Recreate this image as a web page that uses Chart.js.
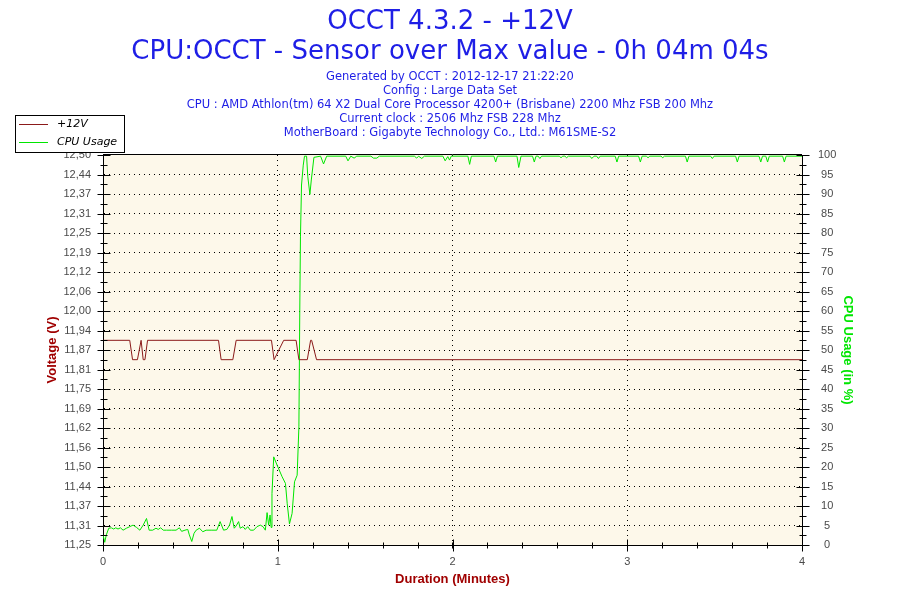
<!DOCTYPE html>
<html>
<head>
<meta charset="utf-8">
<title>OCCT 4.3.2 - +12V</title>
<script src="https://cdn.jsdelivr.net/npm/chart.js@4.4.1/dist/chart.umd.min.js"></script>
<style>
  html, body { margin: 0; padding: 0; background: #fff; }
  #wrap { position: relative; width: 900px; height: 600px; font-family: "DejaVu Sans", sans-serif; }
  #wrap canvas { position: absolute; left: 0; top: 0; }
  .hd { position: absolute; left: 0; width: 900px; text-align: center; color: #1e1ee6; white-space: nowrap; }
  .big { font-size: 26px; line-height: 30px; }
  .small { font-size: 11.5px; line-height: 14px; }
  #legend { position: absolute; left: 15px; top: 115px; width: 108px; height: 36px;
            border: 1px solid #000; background: #fff; }
  #legend .item { position: absolute; left: 0; height: 18px; width: 108px; }
  #legend .swatch { position: absolute; left: 3px; top: 8px; width: 29px; height: 1px; }
  #legend .lbl { position: absolute; left: 41px; top: 1px; font-size: 11px; font-style: italic; color: #000; }
</style>
</head>
<body>
<div id="wrap">
  <canvas id="chart" width="900" height="600"></canvas>
  <div class="hd big" style="top:5px">OCCT 4.3.2 - +12V</div>
  <div class="hd big" style="top:35px">CPU:OCCT - Sensor over Max value - 0h 04m 04s</div>
  <div class="hd small" style="top:69px">Generated by OCCT : 2012-12-17 21:22:20</div>
  <div class="hd small" style="top:83px">Config : Large Data Set</div>
  <div class="hd small" style="top:97px">CPU : AMD Athlon(tm) 64 X2 Dual Core Processor 4200+ (Brisbane) 2200 Mhz FSB 200 Mhz</div>
  <div class="hd small" style="top:111px">Current clock : 2506 Mhz FSB 228 Mhz</div>
  <div class="hd small" style="top:125px">MotherBoard : Gigabyte Technology Co., Ltd.: M61SME-S2</div>
  <div id="legend"></div>
</div>
<script>
// series names / colours
const seriesNames = ['+12V', 'CPU Usage'];
const seriesColors = ['#8b1a1a', '#00e600'];

// +12V sensor, time in minutes
const voltTime = [0, 0.153, 0.169, 0.197, 0.218, 0.230, 0.240, 0.255, 0.661, 0.676, 0.743, 0.762,
                  0.964, 0.979, 1.034, 1.105, 1.121, 1.169, 1.188, 1.194, 1.222, 4.0];
const voltage = [11.906, 11.906, 11.844, 11.844, 11.906, 11.844, 11.844, 11.906, 11.906, 11.844, 11.844, 11.906,
                 11.906, 11.844, 11.906, 11.906, 11.844, 11.844, 11.906, 11.906, 11.844, 11.844];

// CPU usage (%), time in minutes
const cpuTime = [0.000, 0.010, 0.019, 0.033, 0.048, 0.061, 0.073, 0.086, 0.100, 0.115, 0.134, 0.153,
  0.172, 0.192, 0.211, 0.230, 0.249, 0.264, 0.284, 0.303, 0.316, 0.330, 0.345, 0.364, 0.393, 0.418,
  0.437, 0.450, 0.469, 0.485, 0.494, 0.508, 0.521, 0.533, 0.552, 0.571, 0.590, 0.623, 0.651, 0.670,
  0.690, 0.709, 0.724, 0.738, 0.751, 0.762, 0.776, 0.785, 0.801, 0.814, 0.828, 0.843, 0.862, 0.881,
  0.900, 0.916, 0.929, 0.939, 0.948, 0.956, 0.962, 0.967, 0.977, 0.996, 1.025, 1.044, 1.054, 1.067,
  1.082, 1.096, 1.111, 1.121, 1.126, 1.130, 1.136, 1.146, 1.153, 1.165, 1.172, 1.184, 1.192, 1.207,
  1.245, 1.262, 1.280, 1.389, 1.402, 1.418, 1.437, 1.452, 1.533, 1.548, 1.567, 1.581, 1.782, 1.795,
  1.806, 1.824, 1.839, 1.945, 1.958, 1.973, 1.983, 1.993, 2.088, 2.098, 2.108, 2.237, 2.247, 2.257,
  2.369, 2.379, 2.392, 2.458, 2.468, 2.478, 2.490, 2.500, 2.510, 2.611, 2.621, 2.631, 2.643, 2.653,
  2.663, 2.787, 2.797, 2.810, 2.825, 2.835, 2.845, 2.931, 2.941, 2.951, 3.065, 3.075, 3.085, 3.109,
  3.119, 3.129, 3.193, 3.203, 3.213, 3.333, 3.343, 3.353, 3.477, 3.487, 3.497, 3.620, 3.630, 3.640,
  3.754, 3.764, 3.774, 3.793, 3.803, 3.813, 3.889, 3.899, 3.909, 4.000];
const cpuUsage = [2.6, 0.7, 2.6, 4.3, 4.4, 4.1, 4.4, 4.1, 4.4, 3.8, 4.3, 4.7,
  5.1, 4.5, 3.8, 5.1, 6.8, 3.8, 3.8, 4.3, 4.0, 4.4, 3.8, 3.8, 3.8, 3.8,
  4.4, 3.5, 3.8, 4.0, 2.6, 0.9, 3.0, 3.8, 4.3, 3.4, 3.8, 3.8, 3.8, 6.0,
  3.8, 4.0, 5.1, 7.3, 4.3, 4.9, 6.0, 4.3, 4.7, 4.0, 4.7, 3.8, 3.8, 4.7,
  5.1, 4.7, 3.8, 8.3, 5.1, 7.7, 4.5, 13.2, 22.6, 20.5, 17.5, 15.8, 10.7, 5.4,
  8.1, 16.2, 17.9, 30.3, 60, 79, 92.3, 97.4, 99.7, 99.7, 94.4, 89.9, 93.6, 99.4,
  99.7, 97.7, 99.7, 99.7, 98.5, 99.7, 99.2, 99.7, 99.7, 99.2, 99.2, 99.7, 99.7, 99.2,
  99.7, 99.1, 99.7, 99.7, 98.5, 99.6, 98.7, 99.7, 99.7, 97.6, 99.7, 99.7, 98.2, 99.7,
  99.7, 96.8, 99.7, 99.7, 98.2, 99.7, 99.7, 99.1, 99.7, 99.7, 99.3, 99.7, 99.7, 99.3,
  99.7, 99.7, 99.1, 99.7, 99.7, 99.1, 99.7, 99.7, 98.2, 99.7, 99.7, 98.2, 99.7, 99.7,
  99.3, 99.7, 99.7, 99.3, 99.7, 99.7, 98.2, 99.7, 99.7, 99.1, 99.7, 99.7, 98.2, 99.7,
  99.7, 98.2, 99.7, 99.7, 98.2, 99.7, 99.7, 98.2, 99.7, 99.7];

// axis ticks
const voltTicks = [11.25, 11.3125, 11.375, 11.4375, 11.5, 11.5625, 11.625, 11.6875, 11.75, 11.8125, 11.875,
                   11.9375, 12, 12.0625, 12.125, 12.1875, 12.25, 12.3125, 12.375, 12.4375, 12.5];
const voltLabels = ['11,25', '11,31', '11,37', '11,44', '11,50', '11,56', '11,62', '11,69', '11,75', '11,81', '11,87',
                    '11,94', '12,00', '12,06', '12,12', '12,19', '12,25', '12,31', '12,37', '12,44', '12,50'];

const tickFont = { family: 'Liberation Sans', size: 11 };
const tickColor = '#4a4a4a';
const titleFont = { family: 'Liberation Sans', size: 13, weight: 'bold' };

// legend
const legend = document.getElementById('legend');
seriesNames.forEach((name, i) => {
  const it = document.createElement('div');
  it.className = 'item';
  it.style.top = (i * 18) + 'px';
  it.innerHTML = '<div class="swatch" style="background:' + seriesColors[i] + '"></div><div class="lbl"></div>';
  it.querySelector('.lbl').textContent = name;
  legend.appendChild(it);
});

// cream plot background
const plotBg = {
  id: 'plotBg',
  beforeDraw(chart) {
    const { ctx, chartArea: a } = chart;
    ctx.save();
    ctx.fillStyle = '#fdf8ea';
    ctx.fillRect(a.left, a.top, a.right - a.left, a.bottom - a.top);
    ctx.restore();
  }
};

// top frame line plus major / minor tick marks crossing the axes
const axisMarks = {
  id: 'axisMarks',
  afterDraw(chart) {
    const { ctx, chartArea: a, scales } = chart;
    ctx.save();
    ctx.strokeStyle = '#000';
    ctx.lineWidth = 1;
    ctx.beginPath();
    ctx.moveTo(a.left, Math.round(a.top) - 0.5);
    ctx.lineTo(a.right, Math.round(a.top) - 0.5);

    const vTick = (scale, x, step) => {
      scale.ticks.forEach(t => {
        const y = Math.round(scale.getPixelForValue(t.value)) + 0.5;
        ctx.moveTo(x - 6, y); ctx.lineTo(x + 7, y);
      });
      for (let v = scale.min + step / 2; v < scale.max; v += step) {
        const y = Math.round(scale.getPixelForValue(v)) + 0.5;
        ctx.moveTo(x - 3, y); ctx.lineTo(x + 4, y);
      }
    };
    vTick(scales.yV, Math.round(a.left) + 0.5, 0.0625);
    vTick(scales.yC, Math.round(a.right) + 0.5, 5);

    const xs = scales.x;
    const yb = Math.round(a.bottom) + 0.5;
    xs.ticks.forEach(t => {
      const x = Math.round(xs.getPixelForValue(t.value)) + 0.5;
      ctx.moveTo(x, yb - 6); ctx.lineTo(x, yb + 6);
    });
    for (let v = 0.2; v < xs.max; v += 0.2) {
      const x = Math.round(xs.getPixelForValue(v)) + 0.5;
      ctx.moveTo(x, yb - 3); ctx.lineTo(x, yb + 3);
    }
    ctx.stroke();
    ctx.restore();
  }
};

const edgeless = ctx => (ctx.index === 0 || ctx.index === ctx.scale.ticks.length - 1) ? 'rgba(0,0,0,0)' : '#000';

new Chart(document.getElementById('chart'), {
  type: 'line',
  data: {
    datasets: [{
      label: seriesNames[0],
      data: voltTime.map((t, i) => ({ x: t, y: voltage[i] })),
      borderColor: seriesColors[0],
      borderWidth: 1,
      pointRadius: 0,
      tension: 0,
      yAxisID: 'yV'
    }, {
      label: seriesNames[1],
      data: cpuTime.map((t, i) => ({ x: t, y: cpuUsage[i] })),
      borderColor: seriesColors[1],
      borderWidth: 1,
      pointRadius: 0,
      tension: 0,
      yAxisID: 'yC'
    }]
  },
  options: {
    responsive: false,
    animation: false,
    devicePixelRatio: 1,
    layout: { padding: { top: 155, left: 0, right: 0, bottom: 0 } },
    plugins: { legend: { display: false }, title: { display: false }, tooltip: { enabled: false } },
    scales: {
      x: {
        type: 'linear', min: 0, max: 4,
        ticks: { stepSize: 1, font: tickFont, color: tickColor, padding: 10, maxRotation: 0 },
        grid: { color: edgeless, drawTicks: false, lineWidth: 1 },
        border: { color: '#000', dash: [1, 4] },
        title: { display: true, text: 'Duration (Minutes)', color: '#a00000', font: titleFont, padding: { top: 0, bottom: 13 } },
        afterFit(s) { s.height = 55; s.paddingLeft = 0; s.paddingRight = 0; }
      },
      yV: {
        type: 'linear', position: 'left', min: 11.25, max: 12.5,
        afterBuildTicks(s) { s.ticks = voltTicks.map(v => ({ value: v })); },
        ticks: { font: tickFont, color: tickColor, padding: 12, callback: (v, i) => voltLabels[i] },
        grid: { color: edgeless, drawTicks: false, lineWidth: 1 },
        border: { color: '#000', dash: [1, 4] },
        title: { display: true, text: 'Voltage (V)', color: '#a00000', font: titleFont, padding: { top: 45, bottom: 0 } },
        afterFit(s) { s.width = 103; s.paddingTop = 0; s.paddingBottom = 0; }
      },
      yC: {
        type: 'linear', position: 'right', min: 0, max: 100,
        ticks: { stepSize: 5, font: tickFont, color: tickColor, padding: 16, crossAlign: 'center' },
        grid: { display: false, drawTicks: false },
        border: { color: '#000' },
        title: { display: true, text: 'CPU Usage (in %)', color: '#00e600', font: titleFont, padding: { top: 45, bottom: 0 } },
        afterFit(s) { s.width = 98; s.paddingTop = 0; s.paddingBottom = 0; }
      }
    }
  },
  plugins: [plotBg, axisMarks]
});
</script>
</body>
</html>
